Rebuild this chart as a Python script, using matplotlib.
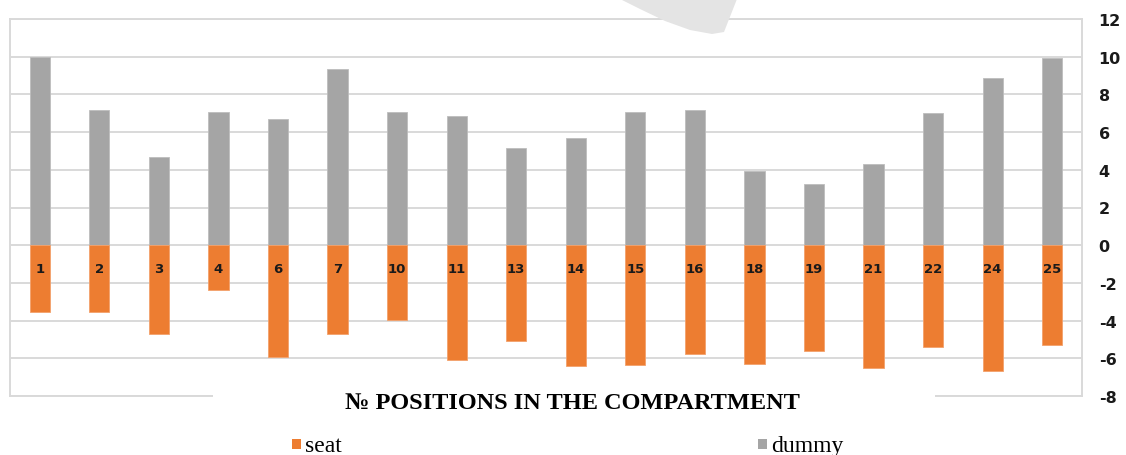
import matplotlib.pyplot as plt
from matplotlib.patches import Rectangle, Polygon

plt.rcParams["axes.unicode_minus"] = False

# positions in the compartment
positions = ["1", "2", "3", "4", "6", "7", "10", "11", "13", "14", "15", "16",
             "18", "19", "21", "22", "24", "25"]
dummy = [10.0, 7.15, 4.7, 7.05, 6.7, 9.35, 7.05, 6.85, 5.15, 5.7, 7.05, 7.15,
         3.95, 3.25, 4.3, 7.0, 8.85, 9.95]
seat = [-3.55, -3.55, -4.7, -2.4, -5.95, -4.7, -3.95, -6.1, -5.1, -6.4, -6.35, -5.75,
        -6.3, -5.6, -6.5, -5.4, -6.65, -5.3]
yticks = [12, 10, 8, 6, 4, 2, 0, -2, -4, -6, -8]

c_seat = "#ED7D31"
c_dummy = "#A5A5A5"
c_grid = "#D9D9D9"

W, H = 1126, 456
fig = plt.figure(figsize=(W / 100, H / 100), dpi=100)
ax = fig.add_axes([10 / W, 1 - 397 / H, (1082 - 10) / W, (397 - 20) / H])

x = range(len(positions))
ax.bar(x, dummy, width=0.34, color=c_dummy, edgecolor="#BDBDBD", linewidth=0.6, zorder=3)
ax.bar(x, seat, width=0.34, color=c_seat, edgecolor="#F3A16B", linewidth=0.6, zorder=3)

for i, lab in enumerate(positions):
    ax.text(i, -1.22, lab, ha="center", va="center", fontsize=9.5, fontweight="bold",
            color="#1a1a1a", family="DejaVu Sans", zorder=4)

ax.set_xlim(-0.5, len(positions) - 0.5)
ax.set_ylim(-8, 12)
ax.set_yticks(yticks)
ax.set_xticks([])
ax.yaxis.tick_right()
ax.tick_params(axis="y", length=0, pad=12, labelsize=11.5)
for t in ax.get_yticklabels():
    t.set_fontweight("bold")
    t.set_color("#1a1a1a")
ax.grid(axis="y", color=c_grid, linewidth=1.4, zorder=0)
for s in ax.spines.values():
    s.set_color(c_grid)
    s.set_linewidth(1.4)

# white patch over the bottom border behind the title
fig.patches.append(Rectangle((213 / W, 1 - 412 / H), (935 - 213) / W, 25 / H,
                             transform=fig.transFigure, facecolor="white",
                             edgecolor="none", zorder=5))
# faint grey shape at the top
fig.patches.append(Polygon([(620 / W, 1), (640 / W, 1 - 10 / H), (665 / W, 1 - 22 / H),
                            (690 / W, 1 - 31 / H), (712 / W, 1 - 35 / H), (724 / W, 1 - 33 / H),
                            (737 / W, 1)],
                           closed=True, transform=fig.transFigure,
                           facecolor="#E4E4E4", edgecolor="none", zorder=5))

fig.text(572 / W, 1 - 404 / H, "№ POSITIONS IN THE COMPARTMENT", ha="center", va="center",
         fontsize=17.5, fontweight="bold", family="Liberation Serif", zorder=6)

# legend
fig.patches.append(Rectangle((292 / W, 1 - 450 / H), 9 / W, 10 / H, transform=fig.transFigure,
                             facecolor=c_seat, edgecolor="none", zorder=6))
fig.text(305 / W, 1 - 447 / H, "seat", ha="left", va="center", fontsize=17,
         family="Liberation Serif", zorder=6)
fig.patches.append(Rectangle((758 / W, 1 - 450 / H), 9 / W, 10 / H, transform=fig.transFigure,
                             facecolor=c_dummy, edgecolor="none", zorder=6))
fig.text(771 / W, 1 - 447 / H, "dummy", ha="left", va="center", fontsize=17,
         family="Liberation Serif", zorder=6)

fig.savefig("out.png", dpi=100)
